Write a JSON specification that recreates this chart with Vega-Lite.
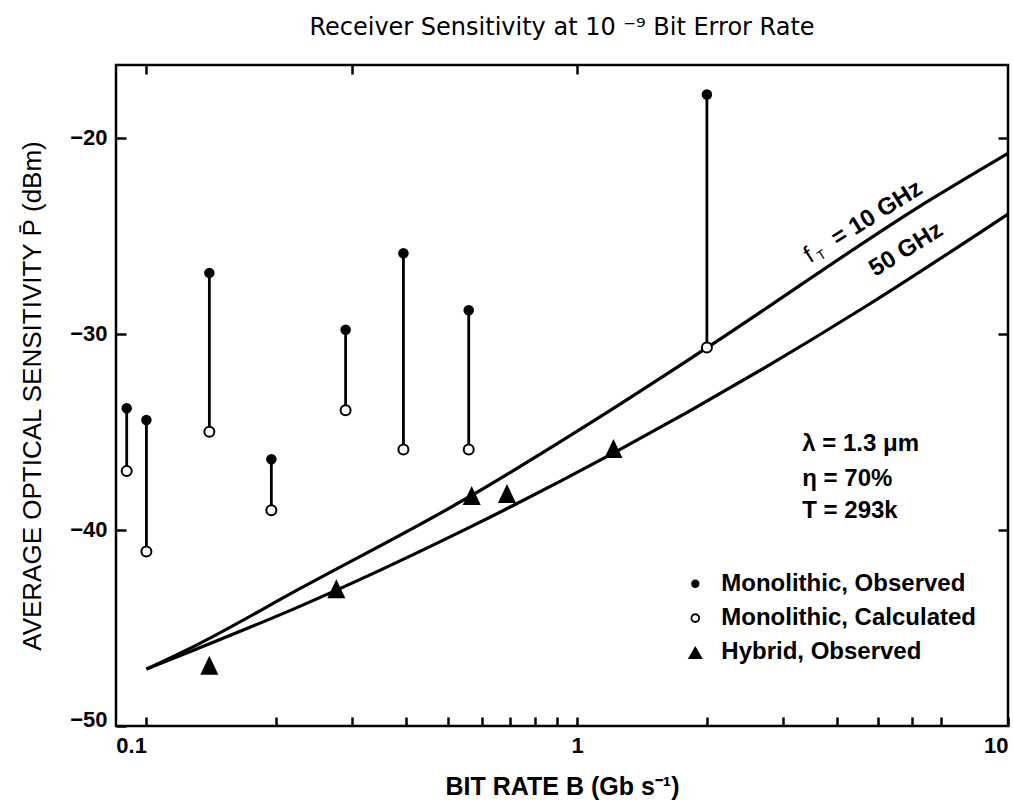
{
  "$schema": "https://vega.github.io/schema/vega-lite/v6.json",
  "width": 892,
  "height": 661,
  "autosize": {"type": "none"},
  "padding": {"left": 116, "top": 65, "right": 5, "bottom": 79},
  "background": "white",
  "config": {
    "view": {"stroke": "black", "strokeWidth": 2.5},
    "font": "Liberation Sans",
    "text": {"font": "Liberation Sans", "color": "black"}
  },
  "title": {
    "text": "Receiver Sensitivity at 10 ⁻⁹ Bit Error Rate",
    "font": "DejaVu Sans",
    "fontSize": 24,
    "fontWeight": "normal",
    "color": "black",
    "anchor": "middle",
    "frame": "group",
    "offset": 24
  },
  "datasets": {
    "monolithic": [
      {"rate": 0.09, "observed": -33.8, "calculated": -37.0},
      {"rate": 0.1, "observed": -34.4, "calculated": -41.1},
      {"rate": 0.14, "observed": -26.9, "calculated": -35.0},
      {"rate": 0.195, "observed": -36.4, "calculated": -39.0},
      {"rate": 0.29, "observed": -29.8, "calculated": -33.9},
      {"rate": 0.395, "observed": -25.9, "calculated": -35.9},
      {"rate": 0.56, "observed": -28.8, "calculated": -35.9},
      {"rate": 2.0, "observed": -17.8, "calculated": -30.7}
    ],
    "hybrid": [
      {"rate": 0.14, "dBm": -46.9},
      {"rate": 0.276, "dBm": -43.0},
      {"rate": 0.569, "dBm": -38.25},
      {"rate": 0.687, "dBm": -38.15},
      {"rate": 1.214, "dBm": -35.85}
    ],
    "curves": [
      {"fT": "10 GHz", "rate": 0.1, "dBm": -47.1},
      {"fT": "10 GHz", "rate": 0.13, "dBm": -45.9},
      {"fT": "10 GHz", "rate": 0.227, "dBm": -43.0},
      {"fT": "10 GHz", "rate": 0.553, "dBm": -38.4},
      {"fT": "10 GHz", "rate": 1.127, "dBm": -34.25},
      {"fT": "10 GHz", "rate": 1.99, "dBm": -30.75},
      {"fT": "10 GHz", "rate": 6.68, "dBm": -23.1},
      {"fT": "10 GHz", "rate": 10, "dBm": -20.8},
      {"fT": "50 GHz", "rate": 0.1, "dBm": -47.1},
      {"fT": "50 GHz", "rate": 0.13, "dBm": -46.1},
      {"fT": "50 GHz", "rate": 0.227, "dBm": -43.9},
      {"fT": "50 GHz", "rate": 0.553, "dBm": -39.95},
      {"fT": "50 GHz", "rate": 1.21, "dBm": -36.1},
      {"fT": "50 GHz", "rate": 4.68, "dBm": -28.6},
      {"fT": "50 GHz", "rate": 10, "dBm": -23.9}
    ],
    "curveLabels": [
      {"fT": "10 GHz", "text": "= 10 GHz", "rate": 5.05, "dBm": -24.13},
      {"fT": "50 GHz", "text": "50 GHz", "rate": 5.9, "dBm": -25.97}
    ],
    "notes": [
      {"note": "λ = 1.3 μm", "rate": 3.33, "dBm": -35.6},
      {"note": "η = 70%", "rate": 3.33, "dBm": -37.4},
      {"note": "T = 293k", "rate": 3.33, "dBm": -39.05}
    ],
    "legend": [
      {"item": "Monolithic, Observed", "rate": 1.88, "dBm": -42.75},
      {"item": "Monolithic, Calculated", "rate": 1.88, "dBm": -44.5},
      {"item": "Hybrid, Observed", "rate": 1.88, "dBm": -46.25}
    ]
  },
  "resolve": {"axis": {"x": "independent", "y": "independent"}},
  "layer": [
    {
      "data": {"name": "monolithic"},
      "mark": {"type": "rule", "color": "black", "strokeWidth": 2.8},
      "encoding": {
        "x": {
          "field": "rate",
          "type": "quantitative",
          "scale": {"type": "log", "domain": [0.085, 10], "nice": false},
          "axis": {
            "orient": "bottom",
            "title": "BIT RATE B (Gb s⁻¹)",
            "values": [0.1, 0.2, 0.3, 0.4, 0.5, 0.6, 0.7, 0.8, 0.9, 1, 2, 3, 4, 5, 6, 7, 10],
            "labelExpr": "datum.value == 0.1 || datum.value == 1 || datum.value == 10 ? datum.value + '' : ''",
            "labelAlign": {"condition": {"test": "datum.value == 1", "value": "center"}, "value": "right"},
            "labelFlush": false,
            "labelOverlap": false,
            "domain": false,
            "grid": false,
            "tickSize": -9,
            "tickWidth": 2.5,
            "tickColor": "black",
            "labelPadding": 18,
            "labelFont": "Liberation Sans",
            "labelFontSize": 22,
            "labelFontWeight": "bold",
            "labelColor": "black",
            "titleFont": "Liberation Sans",
            "titleFontSize": 25,
            "titleFontWeight": "bold",
            "titleColor": "black",
            "titlePadding": 18
          }
        },
        "y": {
          "field": "observed",
          "type": "quantitative",
          "scale": {"domain": [-50, -16.3], "nice": false, "zero": false},
          "axis": {
            "orient": "left",
            "title": "AVERAGE OPTICAL SENSITIVITY P̄ (dBm)",
            "values": [-50, -40, -30, -20],
            "labelBaseline": {"condition": {"test": "datum.value == -50", "value": "alphabetic"}, "value": "middle"},
            "domain": false,
            "grid": false,
            "tickSize": -10,
            "tickWidth": 2.5,
            "tickColor": "black",
            "labelPadding": 19,
            "labelFont": "Liberation Sans",
            "labelFontSize": 22,
            "labelFontWeight": "bold",
            "labelColor": "black",
            "titleFont": "Liberation Sans",
            "titleFontSize": 26,
            "titleFontWeight": "normal",
            "titleColor": "black",
            "titlePadding": 24
          }
        },
        "y2": {"field": "calculated"}
      }
    },
    {
      "data": {"name": "curves"},
      "mark": {"type": "line", "color": "black", "strokeWidth": 3.2, "interpolate": "monotone"},
      "encoding": {
        "x": {
          "field": "rate",
          "type": "quantitative",
          "axis": {
            "orient": "top",
            "title": null,
            "values": [0.1, 0.3, 1],
            "labels": false,
            "domain": false,
            "grid": false,
            "tickSize": -9,
            "tickWidth": 2.5,
            "tickColor": "black"
          }
        },
        "y": {
          "field": "dBm",
          "type": "quantitative",
          "axis": {
            "orient": "right",
            "title": null,
            "values": [-40, -30, -20],
            "labels": false,
            "domain": false,
            "grid": false,
            "tickSize": -10,
            "tickWidth": 2.5,
            "tickColor": "black"
          }
        },
        "detail": {"field": "fT"}
      }
    },
    {
      "data": {"name": "monolithic"},
      "mark": {"type": "point", "shape": "circle", "filled": true, "fill": "white", "stroke": "black", "strokeWidth": 2, "size": 100, "opacity": 1},
      "encoding": {
        "x": {"field": "rate", "type": "quantitative", "axis": null},
        "y": {"field": "calculated", "type": "quantitative", "axis": null}
      }
    },
    {
      "data": {"name": "monolithic"},
      "mark": {"type": "point", "shape": "circle", "filled": true, "color": "black", "size": 110, "opacity": 1},
      "encoding": {
        "x": {"field": "rate", "type": "quantitative", "axis": null},
        "y": {"field": "observed", "type": "quantitative", "axis": null}
      }
    },
    {
      "data": {"name": "hybrid"},
      "mark": {"type": "point", "shape": "M0,-1L-0.95,1L0.95,1Z", "filled": true, "color": "black", "size": 361, "opacity": 1},
      "encoding": {
        "x": {"field": "rate", "type": "quantitative", "axis": null},
        "y": {"field": "dBm", "type": "quantitative", "axis": null}
      }
    },
    {
      "data": {"name": "curveLabels"},
      "mark": {"type": "text", "angle": 328, "align": "center", "baseline": "middle", "fontSize": 24, "fontWeight": "bold", "dy": -6},
      "encoding": {
        "x": {"field": "rate", "type": "quantitative", "axis": null},
        "y": {"field": "dBm", "type": "quantitative", "axis": null},
        "text": {"field": "text"}
      }
    },
    {
      "data": {"name": "curveLabels"},
      "transform": [{"filter": "datum.fT == '10 GHz'"}],
      "mark": {"type": "text", "text": "f", "angle": 328, "align": "center", "baseline": "middle", "fontSize": 24, "fontWeight": "normal", "dx": -80, "dy": -6},
      "encoding": {
        "x": {"field": "rate", "type": "quantitative", "axis": null},
        "y": {"field": "dBm", "type": "quantitative", "axis": null}
      }
    },
    {
      "data": {"name": "curveLabels"},
      "transform": [{"filter": "datum.fT == '10 GHz'"}],
      "mark": {"type": "text", "text": "T", "angle": 328, "align": "center", "baseline": "middle", "fontSize": 13, "fontWeight": "normal", "dx": -69, "dy": 0},
      "encoding": {
        "x": {"field": "rate", "type": "quantitative", "axis": null},
        "y": {"field": "dBm", "type": "quantitative", "axis": null}
      }
    },
    {
      "data": {"name": "notes"},
      "mark": {"type": "text", "align": "left", "baseline": "middle", "fontSize": 24, "fontWeight": "bold"},
      "encoding": {
        "x": {"field": "rate", "type": "quantitative", "axis": null},
        "y": {"field": "dBm", "type": "quantitative", "axis": null},
        "text": {"field": "note"}
      }
    },
    {
      "data": {"name": "legend"},
      "mark": {"type": "text", "align": "left", "baseline": "middle", "fontSize": 24, "fontWeight": "bold", "dx": 26},
      "encoding": {
        "x": {"field": "rate", "type": "quantitative", "axis": null},
        "y": {"field": "dBm", "type": "quantitative", "axis": null},
        "text": {"field": "item"}
      }
    },
    {
      "data": {"name": "legend"},
      "transform": [{"filter": "datum.item == 'Monolithic, Observed'"}],
      "mark": {"type": "point", "shape": "circle", "filled": true, "color": "black", "size": 70, "opacity": 1},
      "encoding": {
        "x": {"field": "rate", "type": "quantitative", "axis": null},
        "y": {"field": "dBm", "type": "quantitative", "axis": null}
      }
    },
    {
      "data": {"name": "legend"},
      "transform": [{"filter": "datum.item == 'Monolithic, Calculated'"}],
      "mark": {"type": "point", "shape": "circle", "filled": true, "fill": "white", "stroke": "black", "strokeWidth": 1.8, "size": 60, "opacity": 1},
      "encoding": {
        "x": {"field": "rate", "type": "quantitative", "axis": null},
        "y": {"field": "dBm", "type": "quantitative", "axis": null}
      }
    },
    {
      "data": {"name": "legend"},
      "transform": [{"filter": "datum.item == 'Hybrid, Observed'"}],
      "mark": {"type": "point", "shape": "triangle-up", "filled": true, "color": "black", "size": 225, "opacity": 1},
      "encoding": {
        "x": {"field": "rate", "type": "quantitative", "axis": null},
        "y": {"field": "dBm", "type": "quantitative", "axis": null}
      }
    }
  ]
}
